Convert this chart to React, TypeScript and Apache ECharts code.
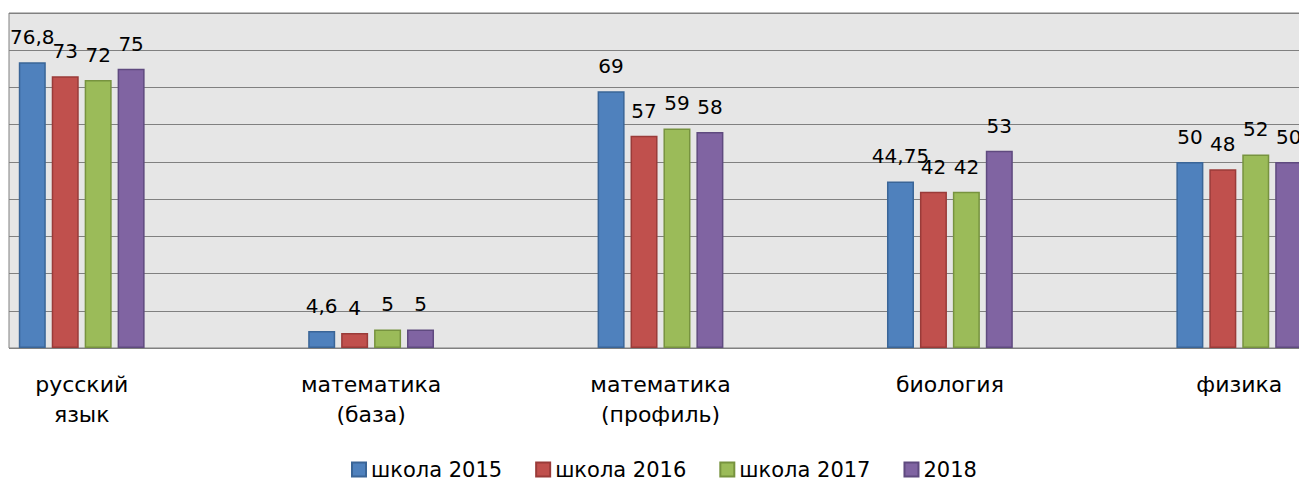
import React, { useEffect, useRef } from "react";
import * as echarts from "echarts";

const categories = ["русский\nязык", "математика\n(база)", "математика\n(профиль)", "биология", "физика"];
const seriesNames = ["школа 2015", "школа 2016", "школа 2017", "2018"];
const school2015 = [76.8, 4.6, 69, 44.75, 50];
const school2016 = [73, 4, 57, 42, 48];
const school2017 = [72, 5, 59, 42, 52];
const year2018 = [75, 5, 58, 53, 50];
const fillColors = ["#4f81bd", "#c0504d", "#9bbb59", "#8064a2"];
const borderColors = ["#3a6597", "#9a3b39", "#77933f", "#5f4a7f"];

const FONT = "DejaVu Sans";
const SHIFT = 63; // the plot extends beyond the visible left edge
const INNER_W = 1447;

export default function App() {
  const ref = useRef<HTMLDivElement>(null);
  useEffect(() => {
    if (!ref.current) return;
    const chart = echarts.init(ref.current, null, { renderer: "svg" });
    const values = [school2015, school2016, school2017, year2018];
    chart.setOption({
      animation: false,
      grid: [
        {
          left: 9 + SHIFT,
          right: INNER_W - SHIFT - 1299 - 2,
          top: 13,
          bottom: 132,
          show: true,
          backgroundColor: "#e6e6e6",
          borderColor: "#808080",
          borderWidth: 1,
        },
        { left: 0, right: 0, top: 13, bottom: 132 },
      ],
      xAxis: [
        { gridIndex: 0, type: "category", data: categories, show: false },
        {
          gridIndex: 1,
          type: "category",
          data: categories,
          axisLine: { show: false },
          axisTick: { show: false },
          axisLabel: {
            fontFamily: FONT,
            fontSize: 22,
            lineHeight: 30,
            color: "#000",
            margin: 21,
            interval: 0,
          },
        },
      ],
      yAxis: [
        {
          gridIndex: 0,
          type: "value",
          min: 0,
          max: 90,
          interval: 10,
          axisLabel: { show: false },
          axisLine: { show: false },
          axisTick: { show: false },
          splitLine: { show: true, lineStyle: { color: "#808080", width: 1.2 } },
        },
        { gridIndex: 1, type: "value", min: 0, max: 90, interval: 10, show: false, splitLine: { show: false } },
      ],
      legend: {
        left: 351 + SHIFT,
        top: 459,
        padding: 0,
        itemWidth: 14,
        itemHeight: 14,
        itemGap: 33,
        icon: "rect",
        textStyle: { fontFamily: FONT, fontSize: 21, color: "#000" },
        data: seriesNames,
      },
      series: seriesNames.map((name, i) => ({
        name,
        type: "bar",
        xAxisIndex: 1,
        yAxisIndex: 1,
        data: values[i],
        barWidth: 27,
        barGap: "22%",
        itemStyle: { color: fillColors[i], borderColor: borderColors[i], borderWidth: 1.5 },
        label: {
          show: true,
          position: "top",
          distance: 15,
          fontFamily: FONT,
          fontSize: 20,
          color: "#000",
          formatter: (p: any) => String(p.value).replace(".", ","),
        },
      })),
    });
    return () => chart.dispose();
  }, []);
  return (
    <div style={{ position: "fixed", left: 0, top: 0, width: 1299, height: 480, overflow: "hidden", background: "#fff" }}>
      <div ref={ref} style={{ position: "absolute", left: -SHIFT, top: 0, width: INNER_W, height: 480 }} />
    </div>
  );
}
